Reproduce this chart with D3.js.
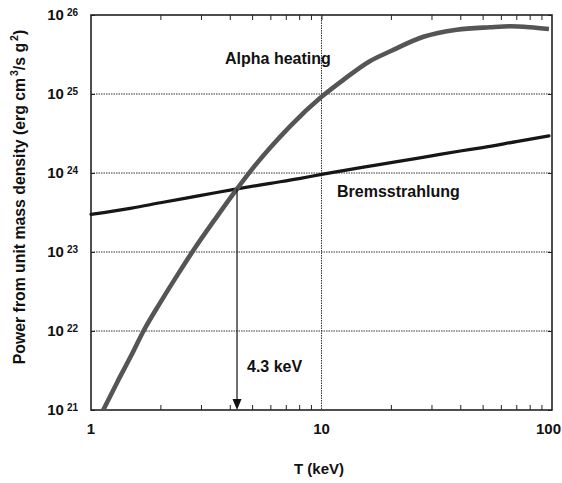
<!DOCTYPE html>
<html>
<head>
<meta charset="utf-8">
<script src="https://cdn.jsdelivr.net/npm/d3@7"></script>
<style>
  html, body { margin: 0; padding: 0; background: #fff; }
  svg { display: block; font-family: "Liberation Sans", Arial, sans-serif; font-weight: bold; }
</style>
</head>
<body>
<svg id="chart" width="562" height="483"></svg>
<script>
// Temperature (keV) and specific power (erg cm^3 / s g^2)
const alphaT     = [1.13, 1.3, 1.5, 1.69, 2.0, 2.4, 2.75, 3.5, 4.3, 5.0, 6.0, 7.3, 10, 12.4, 16.2, 20, 27.7, 38.6, 53.8, 65.7, 80.3, 97];
const alphaPower = [1e21, 2.25e21, 5.0e21, 1e22, 2.3e22, 5.4e22, 1e23, 2.75e23, 6.3e23, 1.12e24, 2.1e24, 3.9e24, 9.2e24, 1.5e25, 2.6e25, 3.5e25, 5.3e25, 6.5e25, 7.0e25, 7.2e25, 7.0e25, 6.65e25];

const bremsT     = [1, 1.5, 2, 3, 4.3, 6, 8, 10, 15, 20, 30, 40, 50, 70, 97];
const bremsPower = [3.0e23, 3.6e23, 4.2e23, 5.2e23, 6.3e23, 7.4e23, 8.5e23, 9.6e23, 1.18e24, 1.35e24, 1.65e24, 1.9e24, 2.1e24, 2.5e24, 2.95e24];

const xMajorTicks = [1, 10, 100];
const xMinorTicks = [2, 3, 4, 5, 6, 7, 8, 9, 20, 30, 40, 50, 60, 70, 80, 90];
const yExponents  = [21, 22, 23, 24, 25, 26];

const ignitionT = 4.3;
const ignitionLabel = "4.3 keV";

const svg = d3.select("#chart");
const plotL = 91, plotR = 552, plotT = 15, plotB = 410;

const x = d3.scaleLog().domain([1, 100]).range([plotL, plotR]);
const y = d3.scaleLog().domain([1e21, 1e26]).range([plotB, plotT]);

// dotted grid
const grid = svg.append("g")
  .attr("stroke", "#333").attr("stroke-width", 1).attr("stroke-dasharray", "1.5,1");
grid.selectAll("line.h").data(yExponents.slice(1, -1)).join("line")
  .attr("x1", plotL).attr("x2", plotR)
  .attr("y1", d => y(Math.pow(10, d))).attr("y2", d => y(Math.pow(10, d)));
grid.append("line")
  .attr("x1", x(10)).attr("x2", x(10)).attr("y1", plotT).attr("y2", plotB);

// inward ticks on all four sides
function tickAxis(axis, transform) {
  const g = svg.append("g").attr("transform", transform).call(axis);
  g.select(".domain").remove();
  g.selectAll("text").remove();
  g.selectAll("line").attr("stroke", "#222").attr("stroke-width", 1);
  return g;
}
tickAxis(d3.axisBottom(x).tickValues(xMinorTicks).tickSize(-5), `translate(0,${plotB})`);
tickAxis(d3.axisTop(x).tickValues(xMinorTicks.concat([10])).tickSize(-5), `translate(0,${plotT})`);
tickAxis(d3.axisRight(y).tickValues(yExponents.map(e => Math.pow(10, e))).tickSize(-4), `translate(${plotR},0)`);
tickAxis(d3.axisLeft(y).tickValues(yExponents.map(e => Math.pow(10, e))).tickSize(-4), `translate(${plotL},0)`);

// frame
svg.append("rect")
  .attr("x", plotL).attr("y", plotT).attr("width", plotR - plotL).attr("height", plotB - plotT)
  .attr("fill", "none").attr("stroke", "#222").attr("stroke-width", 1.6);

// curves
const line = (xs, ys) => d3.line()
  .x((d, i) => x(xs[i])).y((d, i) => y(ys[i]))
  .curve(d3.curveMonotoneX)(xs);

svg.append("path").attr("d", line(bremsT, bremsPower))
  .attr("fill", "none").attr("stroke", "#161616").attr("stroke-width", 3.2)
  .attr("stroke-linejoin", "round").attr("stroke-linecap", "round");
svg.append("path").attr("d", line(alphaT, alphaPower))
  .attr("fill", "none").attr("stroke", "#555").attr("stroke-width", 4.6)
  .attr("stroke-linejoin", "round").attr("stroke-linecap", "butt");

// ignition arrow from the crossing point down to the T axis
const crossIdx = bremsT.indexOf(ignitionT);
const ax = x(ignitionT), ay0 = y(bremsPower[crossIdx]), ay1 = y(1e21);
svg.append("line").attr("x1", ax).attr("x2", ax).attr("y1", ay0).attr("y2", ay1 - 10)
  .attr("stroke", "#111").attr("stroke-width", 1.2);
svg.append("path")
  .attr("d", `M${ax - 4.5},${ay1 - 11}L${ax + 4.5},${ay1 - 11}L${ax},${ay1}Z`)
  .attr("fill", "#111");

// text labels
svg.append("text").attr("x", ax + 10).attr("y", 372).attr("font-size", 16).attr("fill", "#111").text(ignitionLabel);
svg.append("text").attr("x", 225).attr("y", 64).attr("font-size", 16).attr("fill", "#111").text("Alpha heating");
svg.append("text").attr("x", 337).attr("y", 197).attr("font-size", 16).attr("fill", "#111").text("Bremsstrahlung");

// y tick labels: 10^n
const yl = svg.append("g");
yExponents.forEach(e => {
  const t = yl.append("text")
    .attr("x", 78).attr("y", y(Math.pow(10, e))).attr("dy", "0.36em")
    .attr("text-anchor", "end").attr("font-size", 15).attr("fill", "#111");
  t.append("tspan").text("10");
  t.append("tspan").attr("dx", 3).attr("dy", "-0.45em").attr("font-size", 10).text(e);
});

// x tick labels (the last one kept inside the page edge)
svg.append("g").selectAll("text").data(xMajorTicks).join("text")
  .attr("x", (d, i) => i === xMajorTicks.length - 1 ? 561 : x(d)).attr("y", 434)
  .attr("text-anchor", (d, i) => i === xMajorTicks.length - 1 ? "end" : "middle")
  .attr("font-size", 15).attr("fill", "#111")
  .text(d => d);

// axis titles
svg.append("text").attr("x", 319).attr("y", 474).attr("text-anchor", "middle")
  .attr("font-size", 15).attr("fill", "#111").text("T (keV)");

const yt = svg.append("text")
  .attr("transform", "translate(25,197) rotate(-90)")
  .attr("text-anchor", "middle").attr("font-size", 15.8).attr("fill", "#111");
yt.append("tspan").text("Power from unit mass density (erg cm");
yt.append("tspan").attr("dx", 2).attr("dy", -7).attr("font-size", 10.5).text("3");
yt.append("tspan").attr("dy", 7).text("/s g");
yt.append("tspan").attr("dx", 2).attr("dy", -7).attr("font-size", 10.5).text("2");
yt.append("tspan").attr("dy", 7).text(")");
</script>
</body>
</html>
